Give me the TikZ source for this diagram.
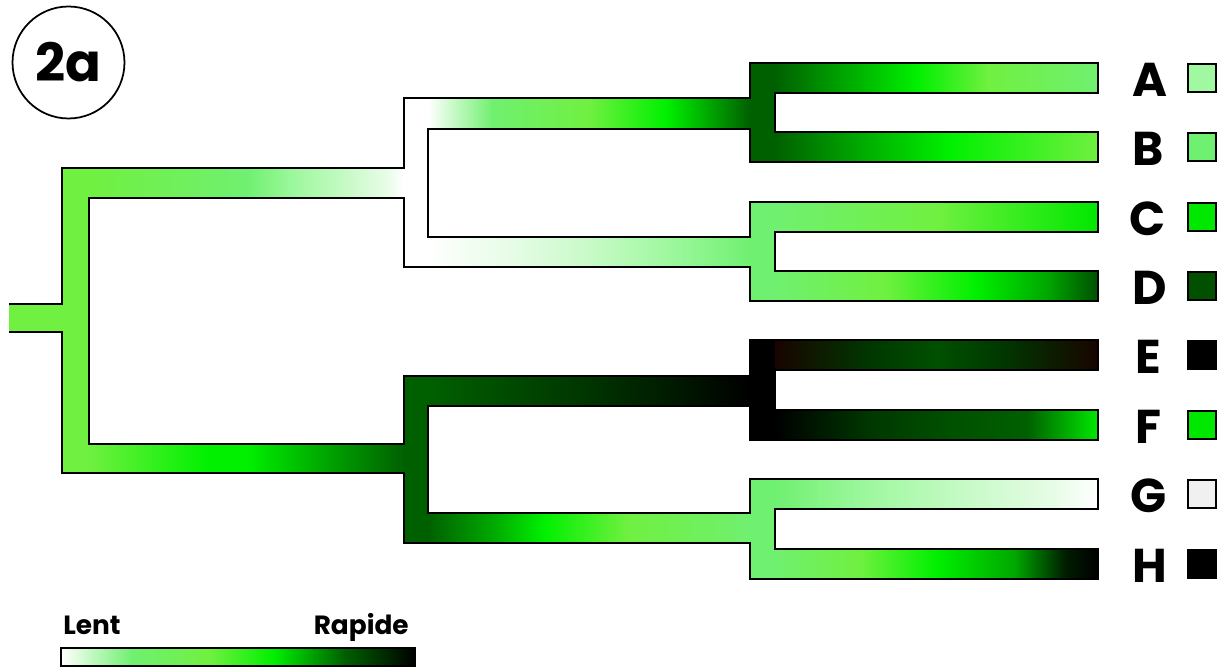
\documentclass[tikz,border=0pt]{standalone}
\usepackage{fontspec}
\setmainfont{Poppins}
\usepackage{tikz}
\usetikzlibrary{positioning}

\definecolor{mint}{HTML}{70F070}
\definecolor{lime}{HTML}{70F040}
\definecolor{vivid}{HTML}{00F000}
\definecolor{forest}{HTML}{006000}
\definecolor{pale}{HTML}{A0F8A0}
\definecolor{paler}{HTML}{C8FAC8}
\definecolor{palest}{HTML}{E6FCE6}
\definecolor{midgreen}{HTML}{00A800}
\definecolor{deepgreen}{HTML}{003800}
\definecolor{nightgreen}{HTML}{001C00}
\definecolor{rust}{HTML}{180400}
\definecolor{ashgrey}{HTML}{F0F0F0}
\definecolor{sqC}{HTML}{00E800}
\definecolor{sqD}{HTML}{005000}

% colour ramps along the branches (25bp = left end, 75bp = right end)
\pgfdeclarehorizontalshading{rootup}{100bp}{color(0bp)=(lime); color(25bp)=(lime); color(50bp)=(mint); color(58bp)=(pale); color(66bp)=(paler); color(72bp)=(palest); color(75bp)=(white); color(100bp)=(white)}
\pgfdeclarehorizontalshading{rootlow}{100bp}{color(0bp)=(lime); color(25bp)=(lime); color(44bp)=(vivid); color(50bp)=(vivid); color(62bp)=(midgreen); color(75bp)=(forest); color(100bp)=(forest)}
\pgfdeclarehorizontalshading{armAB}{100bp}{color(0bp)=(white); color(25bp)=(white); color(35bp)=(mint); color(50bp)=(lime); color(62bp)=(vivid); color(75bp)=(forest); color(100bp)=(forest)}
\pgfdeclarehorizontalshading{armCD}{100bp}{color(0bp)=(white); color(25bp)=(white); color(38bp)=(palest); color(50bp)=(paler); color(62bp)=(pale); color(75bp)=(mint); color(100bp)=(mint)}
\pgfdeclarehorizontalshading{armEF}{100bp}{color(0bp)=(forest); color(25bp)=(forest); color(48bp)=(deepgreen); color(62bp)=(nightgreen); color(75bp)=(black); color(100bp)=(black)}
\pgfdeclarehorizontalshading{armGH}{100bp}{color(0bp)=(forest); color(25bp)=(forest); color(35bp)=(midgreen); color(43bp)=(vivid); color(56bp)=(lime); color(75bp)=(mint); color(100bp)=(mint)}
\pgfdeclarehorizontalshading{tipA}{100bp}{color(0bp)=(forest); color(25bp)=(forest); color(36bp)=(midgreen); color(47bp)=(vivid); color(58bp)=(lime); color(75bp)=(mint); color(100bp)=(mint)}
\pgfdeclarehorizontalshading{tipB}{100bp}{color(0bp)=(forest); color(25bp)=(forest); color(38bp)=(midgreen); color(52bp)=(vivid); color(75bp)=(lime); color(100bp)=(lime)}
\pgfdeclarehorizontalshading{tipC}{100bp}{color(0bp)=(mint); color(25bp)=(mint); color(50bp)=(lime); color(75bp)=(sqC); color(100bp)=(sqC)}
\pgfdeclarehorizontalshading{tipD}{100bp}{color(0bp)=(mint); color(25bp)=(mint); color(42bp)=(lime); color(56bp)=(vivid); color(67bp)=(midgreen); color(75bp)=(sqD); color(100bp)=(sqD)}
\pgfdeclarehorizontalshading{tipE}{100bp}{color(0bp)=(rust); color(25bp)=(rust); color(40bp)=(deepgreen); color(50bp)=(sqD); color(60bp)=(deepgreen); color(75bp)=(rust); color(100bp)=(rust)}
\pgfdeclarehorizontalshading{tipF}{100bp}{color(0bp)=(black); color(25bp)=(black); color(40bp)=(deepgreen); color(52bp)=(sqD); color(64bp)=(forest); color(75bp)=(sqC); color(100bp)=(sqC)}
\pgfdeclarehorizontalshading{tipG}{100bp}{color(0bp)=(mint); color(25bp)=(mint); color(40bp)=(pale); color(55bp)=(paler); color(68bp)=(palest); color(75bp)=(white); color(100bp)=(white)}
\pgfdeclarehorizontalshading{tipH}{100bp}{color(0bp)=(mint); color(25bp)=(mint); color(38bp)=(lime); color(50bp)=(vivid); color(62bp)=(midgreen); color(70bp)=(nightgreen); color(75bp)=(black); color(100bp)=(black)}
\pgfdeclarehorizontalshading{ramp}{100bp}{color(0bp)=(white); color(25bp)=(white); color(35bp)=(mint); color(46bp)=(lime); color(55bp)=(vivid); color(65bp)=(forest); color(75bp)=(black); color(100bp)=(black)}

\begin{document}
\begin{tikzpicture}[x=0.02cm, y=-0.02cm,
    outline/.style={line width=1.1pt, line join=miter},
    taxon/.style={font=\fontsize{27}{27}\selectfont\bfseries},
    swatch/.style={draw, line width=1.1pt, minimum size=0.56cm, inner sep=0pt},
    legendtxt/.style={font=\fontsize{15}{15}\selectfont\bfseries}]
	\useasboundingbox (0,0) rectangle (1223,668);

	% root
	\fill[lime] (9,304) rectangle (62,332);
	\fill[lime] (62,168) rectangle (89,473);
	\shade[shading=rootup] (89,168) rectangle (404,198);
	\shade[shading=rootlow] (89,444) rectangle (404,473);

	% ABCD
	\fill[white] (404,98) rectangle (428,267);
	\shade[shading=armAB] (428,98) rectangle (750,129);
	\shade[shading=armCD] (428,237) rectangle (750,267);
	\fill[forest] (750,63) rectangle (775,162);
	\shade[shading=tipA] (775,63) rectangle (1098,93);
	\shade[shading=tipB] (775,132) rectangle (1098,162);
	\fill[mint] (750,202) rectangle (775,301);
	\shade[shading=tipC] (775,202) rectangle (1098,232);
	\shade[shading=tipD] (775,271) rectangle (1098,301);

	% EFGH
	\fill[forest] (404,376) rectangle (428,543);
	\shade[shading=armEF] (428,376) rectangle (750,406);
	\shade[shading=armGH] (428,513) rectangle (750,543);
	\fill[black] (750,340) rectangle (775,440);
	\shade[shading=tipE] (775,340) rectangle (1098,370);
	\shade[shading=tipF] (775,410) rectangle (1098,440);
	\fill[mint] (750,479) rectangle (775,579);
	\shade[shading=tipG] (775,479) rectangle (1098,509);
	\shade[shading=tipH] (775,549) rectangle (1098,579);

	% contour of the whole tree
	\draw[outline] (9,304) -- (62,304) -- (62,168) -- (404,168) -- (404,98)
		-- (750,98) -- (750,63) -- (1098,63) -- (1098,93) -- (775,93)
		-- (775,132) -- (1098,132) -- (1098,162) -- (750,162) -- (750,129)
		-- (428,129) -- (428,237) -- (750,237) -- (750,202) -- (1098,202)
		-- (1098,232) -- (775,232) -- (775,271) -- (1098,271) -- (1098,301)
		-- (750,301) -- (750,267) -- (404,267) -- (404,198) -- (89,198)
		-- (89,444) -- (404,444) -- (404,376) -- (750,376) -- (750,340)
		-- (1098,340) -- (1098,370) -- (775,370) -- (775,410) -- (1098,410)
		-- (1098,440) -- (750,440) -- (750,406) -- (428,406) -- (428,513)
		-- (750,513) -- (750,479) -- (1098,479) -- (1098,509) -- (775,509)
		-- (775,549) -- (1098,549) -- (1098,579) -- (750,579) -- (750,543)
		-- (404,543) -- (404,473) -- (62,473) -- (62,332) -- (9,332);

	% taxa
	\node[taxon] (labA) at (1150,80) {A};
	\node[taxon] (labB) at (1148,149) {B};
	\node[taxon] (labC) at (1148,219) {C};
	\node[taxon] (labD) at (1150,288) {D};
	\node[taxon] (labE) at (1148,357) {E};
	\node[taxon] (labF) at (1148,427) {F};
	\node[taxon] (labG) at (1149,496) {G};
	\node[taxon] (labH) at (1150,566) {H};

	\node[swatch, fill=pale] (sqA) at (1202,78) {};
	\node[swatch, fill=mint] (sqB) at (1202,147) {};
	\node[swatch, fill=sqC] (sqC) at (1202,217) {};
	\node[swatch, fill=sqD] (sqD) at (1202,286) {};
	\node[swatch, fill=black] (sqE) at (1202,355) {};
	\node[swatch, fill=sqC] (sqF) at (1202,425) {};
	\node[swatch, fill=ashgrey] (sqG) at (1202,494) {};
	\node[swatch, fill=black] (sqH) at (1202,564) {};

	% panel tag
	\node[draw, circle, line width=1pt, minimum size=2.24cm, inner sep=0pt,
		font=\fontsize{30}{30}\selectfont\bfseries] (tag) at (68.5,62.5) {2a};

	% legend
	\shade[shading=ramp, draw, line width=1.1pt] (61,648) rectangle (415,666);
	\node[legendtxt, anchor=base west, inner sep=0pt] (lent) at (63,634) {Lent};
	\node[legendtxt, anchor=base east, inner sep=0pt] (rapide) at (409,634) {Rapide};
\end{tikzpicture}
\end{document}
